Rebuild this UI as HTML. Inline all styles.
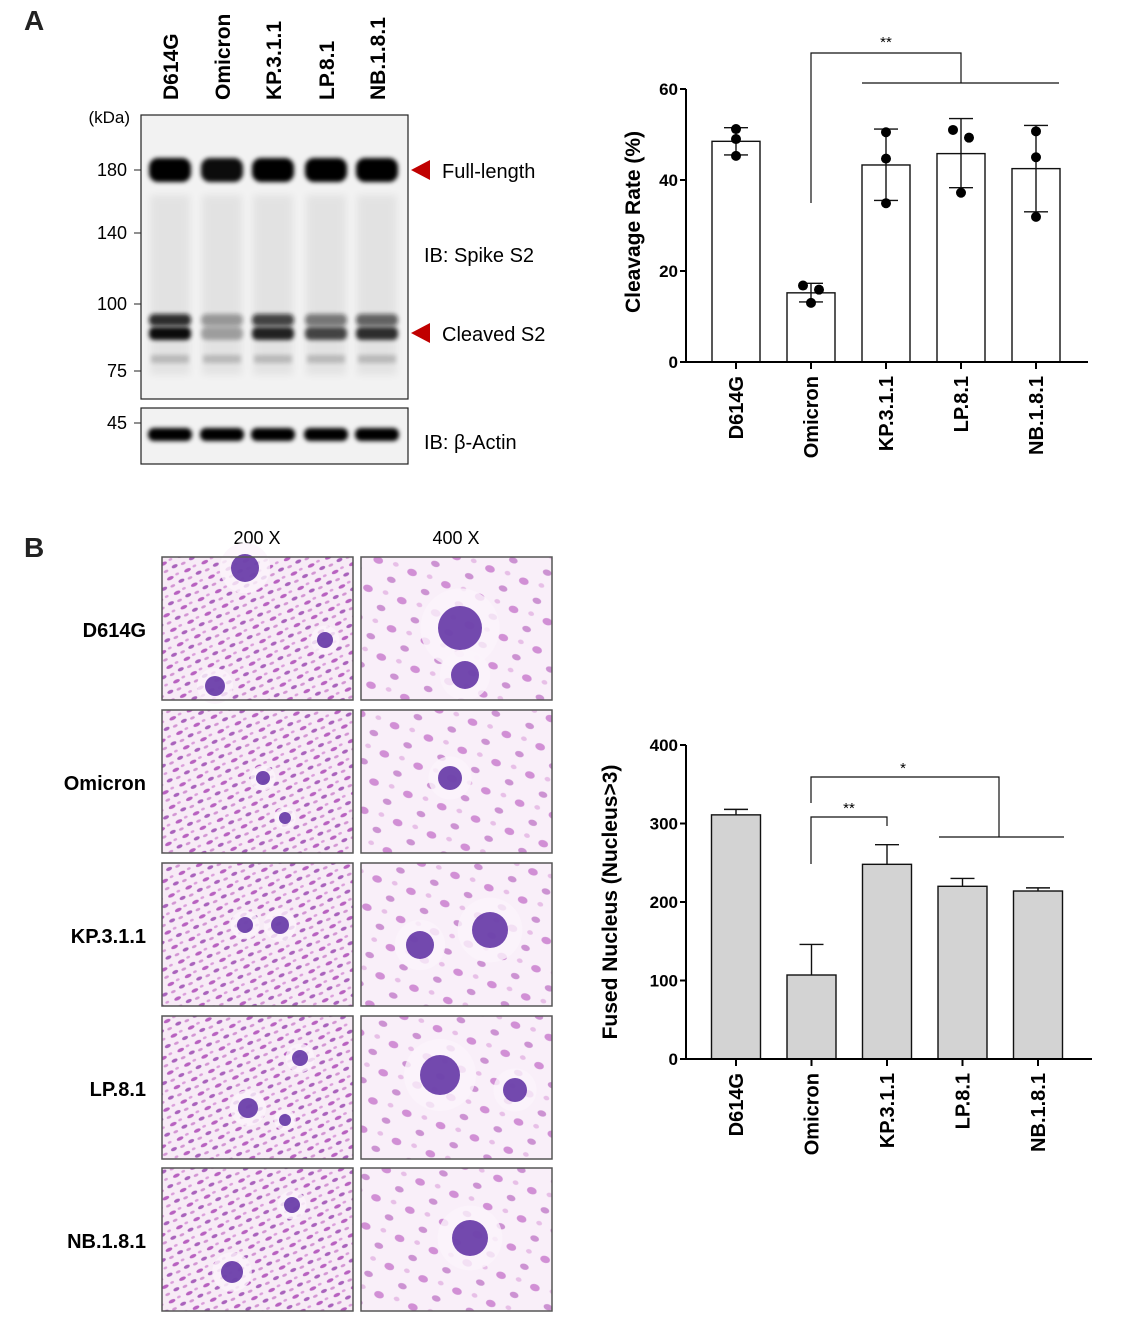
<!DOCTYPE html>
<html><head><meta charset="utf-8">
<style>
html,body{margin:0;padding:0;background:#fff;}
body{width:1138px;height:1340px;position:relative;overflow:hidden;font-family:"Liberation Sans",Arial,sans-serif;}
svg{position:absolute;left:0;top:0;}
</style></head>
<body>
<svg id="fig" width="1138" height="1340" viewBox="0 0 1138 1340" xmlns="http://www.w3.org/2000/svg">
<defs>
  <filter id="blur2" x="-30%" y="-100%" width="160%" height="300%"><feGaussianBlur stdDeviation="2"/></filter>
  <filter id="blur4" x="-30%" y="-100%" width="160%" height="300%"><feGaussianBlur stdDeviation="4"/></filter>
  <pattern id="cells200" width="19" height="16" patternUnits="userSpaceOnUse" patternTransform="rotate(-25)">
    <rect width="19" height="16" fill="#f7ebf6"/>
    <ellipse cx="5" cy="4" rx="3.6" ry="1.8" fill="#a93fb3" opacity="0.8"/>
    <ellipse cx="14" cy="11" rx="3.2" ry="1.7" fill="#8e34a8" opacity="0.75"/>
    <ellipse cx="13" cy="3" rx="2" ry="1.3" fill="#c86cc9" opacity="0.6"/>
    <ellipse cx="4" cy="12" rx="2.5" ry="1.4" fill="#bb5cbd" opacity="0.6"/>
  </pattern>
  <pattern id="cells400" width="36" height="30" patternUnits="userSpaceOnUse" patternTransform="rotate(20)">
    <rect width="36" height="30" fill="#f9eff9"/>
    <ellipse cx="7" cy="7" rx="5" ry="3.5" fill="#b64fbc" opacity="0.6"/>
    <ellipse cx="26" cy="21" rx="4.5" ry="3" fill="#a745b2" opacity="0.55"/>
    <ellipse cx="25" cy="5" rx="3" ry="2.2" fill="#d58fd6" opacity="0.5"/>
  </pattern>
</defs>

<text x="24" y="30" font-size="28" font-weight="bold" fill="#222">A</text>
<text x="24" y="557" font-size="28" font-weight="bold" fill="#222">B</text>

<g id="blot"></g>

<polygon points="411,170 430,160 430,180" fill="#c00000"/>
<text x="442" y="178" font-size="20">Full-length</text>
<polygon points="411,333 430,323 430,343" fill="#c00000"/>
<text x="442" y="341" font-size="20">Cleaved S2</text>

<g id="micro"></g>
<g id="chart1"></g>
<g id="chart2"></g>
</svg>

<script>
const NS="http://www.w3.org/2000/svg";
function mk(tag,attrs,parent,text){const e=document.createElementNS(NS,tag);for(const k in attrs)e.setAttribute(k,attrs[k]);if(text!==undefined)e.textContent=text;parent.appendChild(e);return e;}

const categories=["D614G","Omicron","KP.3.1.1","LP.8.1","NB.1.8.1"];

const cleavageMean=[48.5,15.2,43.3,45.8,42.5];
const cleavageErrLow=[45.5,13.2,35.5,38.3,33.0];
const cleavageErrHigh=[51.5,17.3,51.2,53.5,52.0];
const cleavagePoints=[[51.2,49.0,45.3],[16.8,15.9,13.0],[50.5,44.7,34.9],[51.0,49.3,37.2],[50.7,45.0,31.9]];
const cleavageTicks=[0,20,40,60];

const fusedMean=[311,107,248,220,214];
const fusedErrHigh=[318,146,273,230,218];
const fusedTicks=[0,100,200,300,400];

function drawChart(g,cfg){
  const y=v=>cfg.y0-(v-cfg.vmin)/(cfg.vmax-cfg.vmin)*(cfg.y0-cfg.y1);
  const x=i=>cfg.xStart+i*cfg.step;
  cfg.mean.forEach((v,i)=>{
    const r=mk('rect',{x:x(i)-cfg.bw/2,y:y(v),width:cfg.bw,height:cfg.y0-y(v),fill:cfg.fill,stroke:'#111','stroke-width':1.4},g);
    
    
  });
  cfg.mean.forEach((v,i)=>{
    const lo=cfg.errLow?cfg.errLow[i]:v, hi=cfg.errHigh[i];
    const eg=mk('g',{},g);
    
    
    mk('line',{x1:x(i),x2:x(i),y1:y(lo),y2:y(hi),stroke:'#111','stroke-width':1.4},eg);
    mk('line',{x1:x(i)-12,x2:x(i)+12,y1:y(hi),y2:y(hi),stroke:'#111','stroke-width':1.4},eg);
    if(cfg.errLow) mk('line',{x1:x(i)-12,x2:x(i)+12,y1:y(lo),y2:y(lo),stroke:'#111','stroke-width':1.4},eg);
  });
  if(cfg.points){
    const offs=[[0,0,0],[-8,8,0],[0,0,0],[-8,8,0],[0,0,0]];
    cfg.points.forEach((arr,i)=>arr.forEach((v,j)=>{
      const c=mk('circle',{cx:x(i)+(offs[i][j]||0),cy:y(v),r:5,fill:'#000'},g);
      
      
    }));
  }
  const ax=mk('g',{},g);
  
  
  mk('line',{x1:cfg.ax,x2:cfg.ax,y1:y(cfg.vmax),y2:cfg.y0+1,stroke:'#000','stroke-width':2},ax);
  cfg.ticks.forEach(t=>{
    mk('line',{x1:cfg.ax-6,x2:cfg.ax,y1:y(t),y2:y(t),stroke:'#000','stroke-width':2},ax);
    const tl=mk('text',{x:cfg.ax-8,y:y(t)+6,'text-anchor':'end','font-size':17,'font-weight':'bold'},ax,String(t));
    
    
  });
  const xa=mk('g',{},g);
  
  
  mk('line',{x1:cfg.ax,x2:cfg.axEnd,y1:cfg.y0,y2:cfg.y0,stroke:'#000','stroke-width':2},xa);
  categories.forEach((c,i)=>{
    mk('line',{x1:x(i),x2:x(i),y1:cfg.y0,y2:cfg.y0+7,stroke:'#000','stroke-width':2},xa);
    const tl=mk('text',{x:0,y:0,'text-anchor':'end','font-size':20,'font-weight':'bold',transform:`translate(${x(i)+7},${cfg.y0+14}) rotate(-90)`},xa,c);
    
    
  });
  const yt=mk('text',{x:0,y:0,'text-anchor':'middle','font-size':21,'font-weight':'bold',transform:`translate(${cfg.titleX},${cfg.titleY}) rotate(-90)`},g,cfg.title);
  
  
}

const c1=document.getElementById('chart1');
drawChart(c1,{mean:cleavageMean,errLow:cleavageErrLow,errHigh:cleavageErrHigh,points:cleavagePoints,ticks:cleavageTicks,
  vmin:0,vmax:60,y0:362,y1:89,xStart:736,step:75,bw:48,fill:'#fff',ax:686,axEnd:1088,title:'Cleavage Rate (%)',titleX:640,titleY:222});
(function(){
  const g=mk('g',{fill:'none',stroke:'#111','stroke-width':1.2},c1);
  
  
  mk('polyline',{points:`811,203 811,53 961,53 961,83`},g);
  mk('line',{x1:862,x2:1059,y1:83,y2:83},g);
  const t=mk('text',{x:886,y:47,'text-anchor':'middle','font-size':15,fill:'#000',stroke:'none'},c1,'**');
  
  
})();

const c2=document.getElementById('chart2');
drawChart(c2,{mean:fusedMean,errHigh:fusedErrHigh,ticks:fusedTicks,
  vmin:0,vmax:400,y0:1059,y1:745,xStart:736,step:75.5,bw:49,fill:'#d3d3d3',ax:686,axEnd:1092,title:'Fused Nucleus (Nucleus>3)',titleX:617,titleY:902});
(function(){
  const g=mk('g',{fill:'none',stroke:'#111','stroke-width':1.2},c2);
  
  
  mk('polyline',{points:`811,864 811,817 887,817 887,826`},g);
  mk('polyline',{points:`811,803 811,777 999,777 999,837`},g);
  mk('line',{x1:939,x2:1064,y1:837,y2:837},g);
  const t1=mk('text',{x:849,y:813,'text-anchor':'middle','font-size':15,fill:'#000',stroke:'none'},c2,'**');
  
  
  const t2=mk('text',{x:903,y:773,'text-anchor':'middle','font-size':15,fill:'#000',stroke:'none'},c2,'*');
  
  
})();

// Western blot
const blot=document.getElementById('blot');
const laneX=[170,222,273,326,377];
const fullLen=[1,0.95,1,1,1];
const cleavedUpper=[0.85,0.35,0.75,0.5,0.6];
const cleavedLower=[0.95,0.3,0.85,0.7,0.8];
const actinBand=[1,1,1,1,1];
categories.forEach((c,i)=>{
  const t=mk('text',{x:0,y:0,'font-size':21,'font-weight':'bold',transform:`translate(${laneX[i]+8},100) rotate(-90)`},blot,c);
  
  
});
mk('rect',{x:141,y:115,width:267,height:284,fill:'#f2f2f2',stroke:'#222','stroke-width':1.2},blot);
mk('rect',{x:141,y:408,width:267,height:56,fill:'#f2f2f2',stroke:'#222','stroke-width':1.2},blot);
const bands=mk('g',{},blot);


laneX.forEach((lx,i)=>{
  mk('rect',{x:lx-20,y:195,width:40,height:180,fill:'#000',opacity:0.06,filter:'url(#blur4)'},bands);
  mk('rect',{x:lx-21,y:158,width:42,height:24,rx:9,fill:'#000',opacity:fullLen[i],filter:'url(#blur2)'},bands);
  mk('rect',{x:lx-21,y:314,width:42,height:12,rx:5,fill:'#111',opacity:cleavedUpper[i],filter:'url(#blur2)'},bands);
  mk('rect',{x:lx-21,y:327,width:42,height:13,rx:5,fill:'#000',opacity:cleavedLower[i],filter:'url(#blur2)'},bands);
  mk('rect',{x:lx-19,y:355,width:38,height:8,fill:'#000',opacity:0.18,filter:'url(#blur2)'},bands);
  mk('rect',{x:lx-22,y:428,width:44,height:13,rx:6,fill:'#000',opacity:actinBand[i],filter:'url(#blur2)'},bands);
});
const mw=[["180",170],["140",233],["100",304],["75",371]];
const mt=mk('text',{x:130,y:123,'text-anchor':'end','font-size':17},blot,'(kDa)');


mw.forEach(m=>{
  mk('line',{x1:134,x2:141,y1:m[1],y2:m[1],stroke:'#222','stroke-width':1},blot);
  const t=mk('text',{x:127,y:m[1]+6,'text-anchor':'end','font-size':18},blot,m[0]);
  
  
});
mk('line',{x1:134,x2:141,y1:423,y2:423,stroke:'#222','stroke-width':1},blot);
const t45=mk('text',{x:127,y:429,'text-anchor':'end','font-size':18},blot,'45');


const ib1=mk('text',{x:424,y:262,'font-size':20},blot,'IB: Spike S2');


const ib2=mk('text',{x:424,y:449,'font-size':20},blot,'IB: β-Actin');



// Micrographs
const micro=document.getElementById('micro');
const rowsY=[557,710,863,1016,1168];
const colX=[162,361];
const colLabels=["200 X","400 X"];
const blobs200=[[[245,568,14],[215,686,10],[325,640,8]],[[263,778,7],[285,818,6]],[[245,925,8],[280,925,9]],[[248,1108,10],[300,1058,8],[285,1120,6]],[[232,1272,11],[292,1205,8]]];
const blobs400=[[[460,628,22],[465,675,14]],[[450,778,12]],[[420,945,14],[490,930,18]],[[440,1075,20],[515,1090,12]],[[470,1238,18]]];
colLabels.forEach((l,j)=>{
  const t=mk('text',{x:colX[j]+95,y:544,'text-anchor':'middle','font-size':18},micro,l);
  
  
});
rowsY.forEach((ry,i)=>{
  const t=mk('text',{x:146,y:ry+80,'text-anchor':'end','font-size':20,'font-weight':'bold'},micro,categories[i]);
  
  
  colX.forEach((cx,j)=>{
    const g=mk('g',{},micro);
    
    
    mk('rect',{x:cx,y:ry,width:191,height:143,fill:j===0?'url(#cells200)':'url(#cells400)'},g);
    (j===0?blobs200:blobs400)[i].forEach(b=>{
      mk('circle',{cx:b[0],cy:b[1],r:b[2]*1.8,fill:'#fbf4fb',opacity:0.8},g);
      mk('circle',{cx:b[0],cy:b[1],r:b[2],fill:'#5a2aa0',opacity:0.85},g);
    });
    mk('rect',{x:cx,y:ry,width:191,height:143,fill:'none',stroke:'#555','stroke-width':1.5},g);
  });
});
</script>
</body></html>
